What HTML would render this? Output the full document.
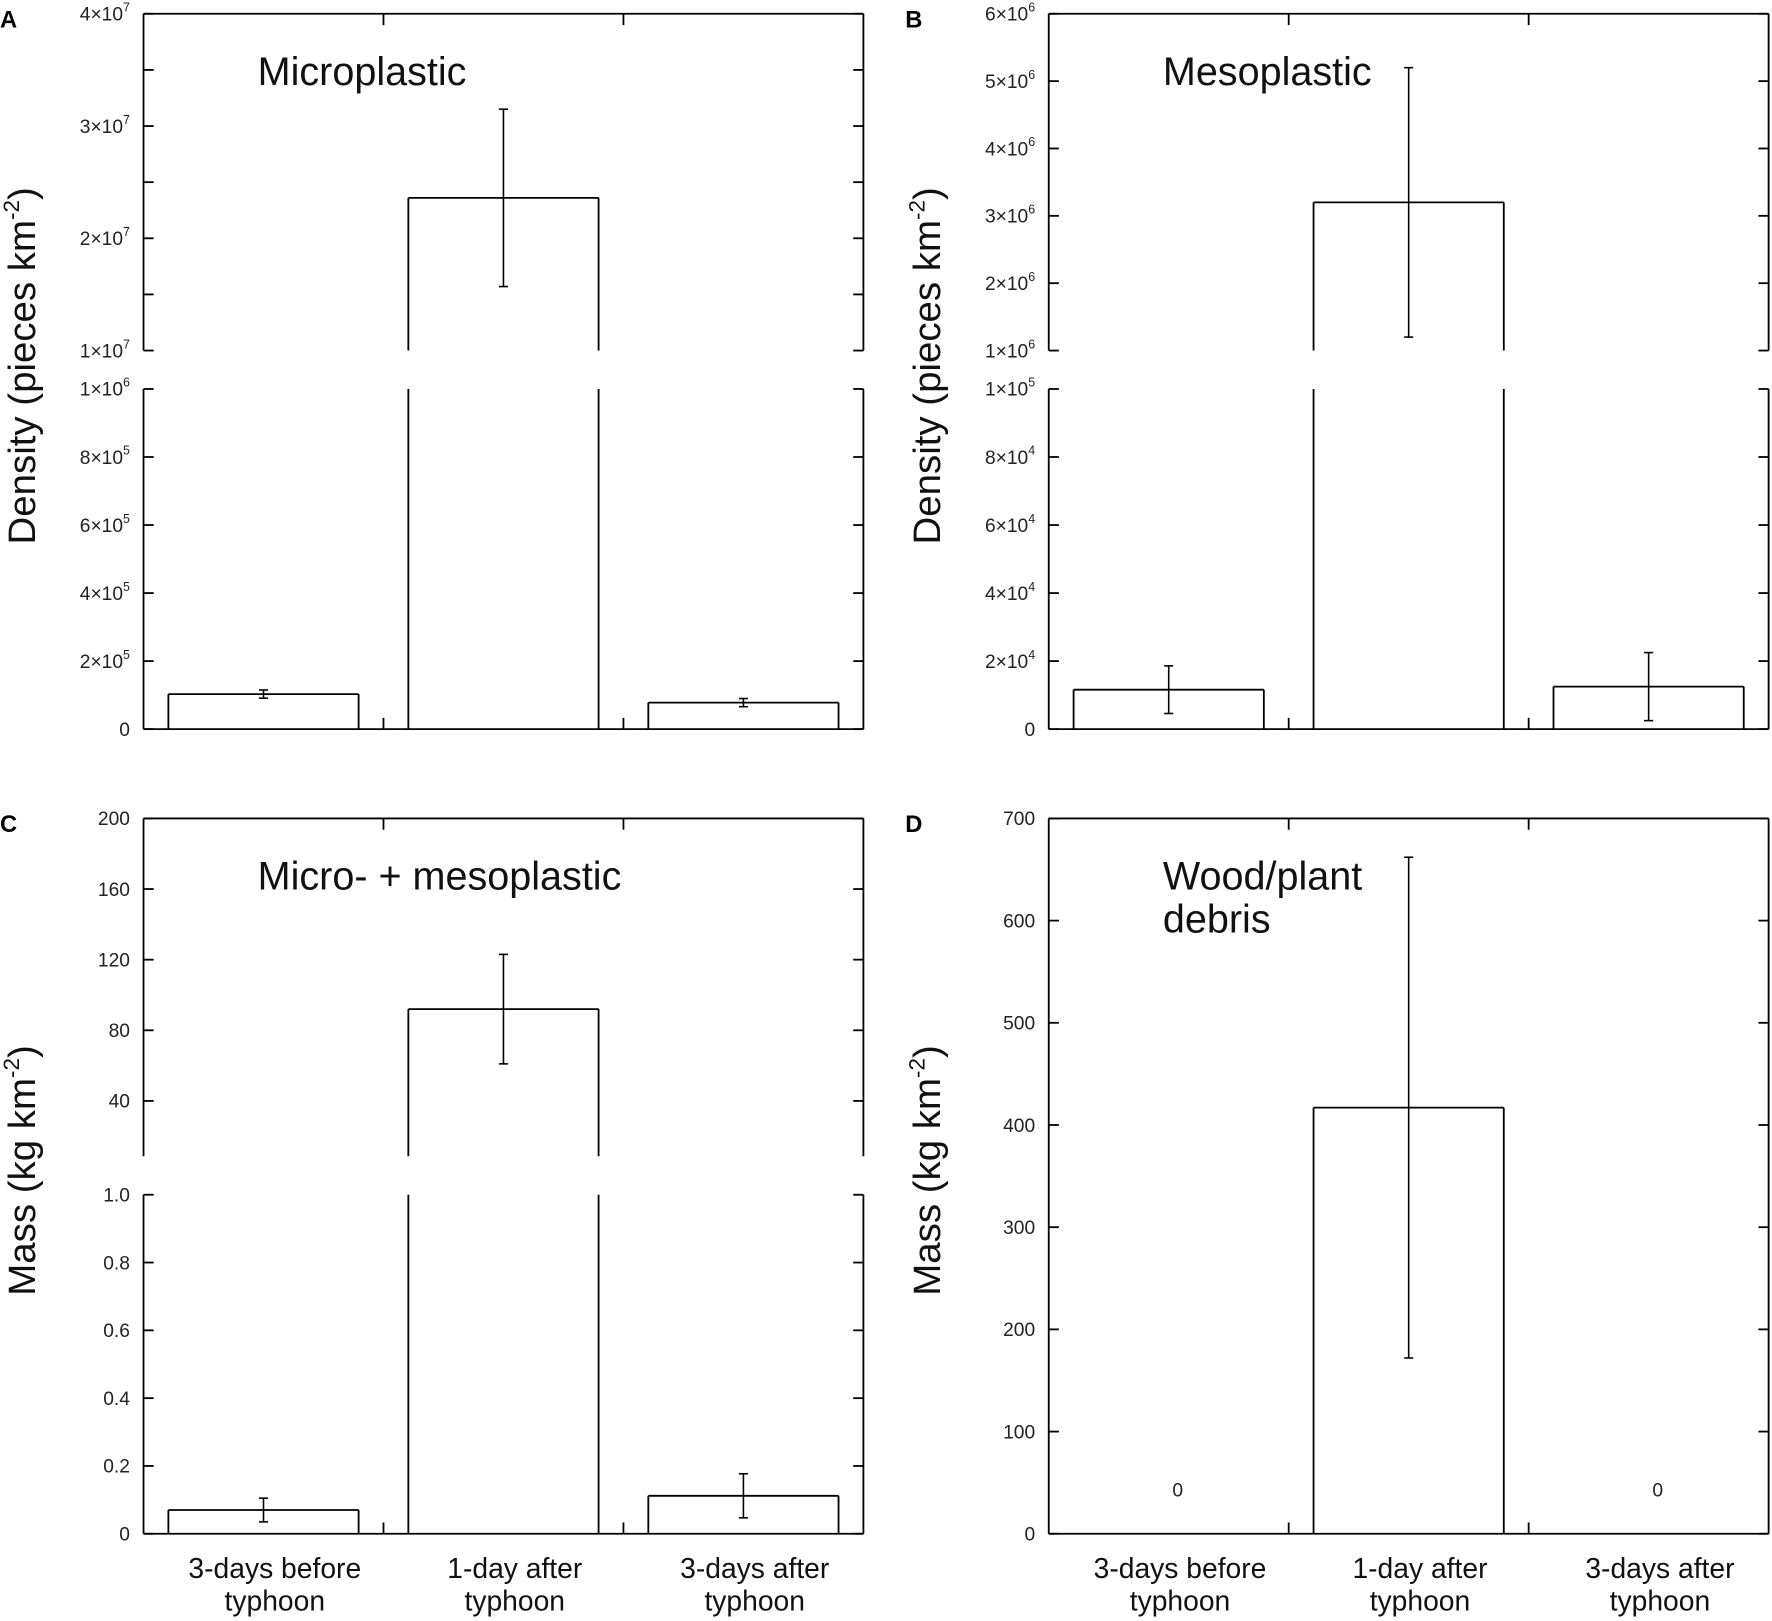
<!DOCTYPE html>
<html><head><meta charset="utf-8"><style>
html,body{margin:0;padding:0;background:#fff}
svg{display:block;font-family:"Liberation Sans",Arial,sans-serif}
</style></head><body>
<svg id="fig" width="1772" height="1621" viewBox="0 0 1568 1434" xmlns="http://www.w3.org/2000/svg"></svg>
<script>
const categories = ["3-days before|typhoon","1-day after|typhoon","3-days after|typhoon"];
const microValues = [1.03e5, 2.36e7, 0.78e5];
const microErrors = [0.12e5, 0.79e7, 0.12e5];
const mesoValues = [1.16e4, 3.2e6, 1.25e4];
const mesoErrors = [0.7e4, 2.0e6, 1.0e4];
const massValues = [0.07, 92, 0.112];
const massErrors = [0.035, 31, 0.065];
const woodValues = [0, 417, 0];
const woodErrors = [0, 245, 0];
const microUpperTicks = [1e7, 2e7, 3e7, 4e7];
const microLowerTicks = [0, 2e5, 4e5, 6e5, 8e5, 1e6];
const mesoUpperTicks = [1e6, 2e6, 3e6, 4e6, 5e6, 6e6];
const mesoLowerTicks = [0, 2e4, 4e4, 6e4, 8e4, 1e5];
const massUpperTicks = [40, 80, 120, 160, 200];
const massLowerTicks = [0, 0.2, 0.4, 0.6, 0.8, 1.0];
const woodTicks = [0, 100, 200, 300, 400, 500, 600, 700];

const NS = "http://www.w3.org/2000/svg";
const svg = document.getElementById('fig');
function mk(tag, attrs, parent) {
  const e = document.createElementNS(NS, tag);
  for (const k in attrs) e.setAttribute(k, attrs[k]);
  (parent || svg).appendChild(e);
  return e;
}
function line(g, x1, y1, x2, y2, w) {
  return mk('line', {x1, y1, x2, y2, stroke: '#000', 'stroke-width': w || 1.6}, g);
}
function sci(v) {
  if (v === 0) return {m: '0', e: null};
  const e = Math.floor(Math.log10(v) + 1e-9);
  const m = Math.round(v / Math.pow(10, e));
  return {m: m + '\u00d710', e: String(e)};
}
function tickLabel(g, x, y, v, mode) {
  const t = mk('text', {x, y: y + 6, 'text-anchor': 'end', 'font-size': 17, fill: '#222'}, g);
  
  
  if (mode === 'sci') {
    const s = sci(v);
    if (s.e === null) { t.textContent = '0'; }
    else {
      const a = mk('tspan', {}, t); a.textContent = s.m;
      const b = mk('tspan', {'font-size': 11, dy: -8}, t); b.textContent = s.e;
    }
  } else if (mode === 'dec') {
    t.textContent = v === 0 ? '0' : v.toFixed(1);
  } else t.textContent = String(v);
}

function panel(cfg) {
  const g = mk('g', {});
  
  
  const L = cfg.left, R = cfg.left + 637, W = R - L;
  const n = categories.length, cw = W / n;
  const segs = cfg.segs;
  function yOf(v) {
    for (const s of segs) {
      if (v >= s.min && v <= s.max) return s.bottom - (v - s.min) / (s.max - s.min) * (s.bottom - s.top);
    }
    const s = segs[0];
    return s.bottom - (v - s.min) / (s.max - s.min) * (s.bottom - s.top);
  }
  const top = segs[0].top, bot = segs[segs.length - 1].bottom;
  line(g, L, top, R, top); line(g, L, bot, R, bot);
  segs.forEach(s => {
    line(g, L, s.top, L, s.bottom); line(g, R, s.top, R, s.bottom);
    const all = s.ticks.concat(s.minor || []);
    all.forEach(v => {
      const y = s.bottom - (v - s.min) / (s.max - s.min) * (s.bottom - s.top);
      line(g, L, y, L + 9, y); line(g, R, y, R - 9, y);
    });
    s.ticks.forEach(v => {
      const y = s.bottom - (v - s.min) / (s.max - s.min) * (s.bottom - s.top);
      tickLabel(g, L - 12, y, v, cfg.mode(s));
    });
  });
  for (let i = 1; i < n; i++) {
    const x = L + cw * i;
    line(g, x, top, x, top + 10); line(g, x, bot, x, bot - 10);
  }
  const vals = cfg.values, errs = cfg.errors;
  vals.forEach((v, i) => {
    const x0 = L + cw * i + 22, x1 = L + cw * (i + 1) - 22, cx = (x0 + x1) / 2;
    if (v === 0) {
      const z = mk('text', {x: cx + 8, y: bot - 33, 'text-anchor': 'middle', 'font-size': 17, fill: '#222'}, g);
      
      
      z.textContent = '0';
      return;
    }
    const yv = yOf(v);
    const bar = mk('g', {}, g);
    
    
    if (segs.length === 2 && v > segs[1].max) {
      line(bar, x0, yv, x1, yv);
      line(bar, x0, yv, x0, segs[0].bottom); line(bar, x1, yv, x1, segs[0].bottom);
      line(bar, x0, segs[1].top, x0, bot); line(bar, x1, segs[1].top, x1, bot);
    } else {
      line(bar, x0, yv, x1, yv); line(bar, x0, yv, x0, bot); line(bar, x1, yv, x1, bot);
    }
    const yt = yOf(v + errs[i]), yb = yOf(v - errs[i]);
    const eb = mk('g', {}, g);
    
    
    line(eb, cx, yt, cx, yb, 1.4); line(eb, cx - 4, yt, cx + 4, yt, 1.4); line(eb, cx - 4, yb, cx + 4, yb, 1.4);
  });
  if (cfg.xlabels) categories.forEach((c, i) => {
    const parts = c.split('|'), cx = L + cw * (i + 0.5) + 10;
    parts.forEach((p, j) => {
      const t = mk('text', {x: cx, y: bot + 39 + j * 29, 'text-anchor': 'middle', 'font-size': 25, fill: '#111'}, g);
      
      
      t.textContent = p;
    });
  });
  const yc = (top + bot) / 2 - 5;
  const yt = mk('text', {x: 0, y: 0, transform: `translate(${L - 96},${yc}) rotate(-90)`, 'text-anchor': 'middle', 'font-size': 34, fill: '#111'}, g);
  
  
  const a = mk('tspan', {}, yt); a.textContent = cfg.ytitle;
  const b = mk('tspan', {'font-size': 20, dy: -14}, yt); b.textContent = '-2';
  const c = mk('tspan', {dy: 14}, yt); c.textContent = ')';
  cfg.title.forEach((tl, j) => {
    const t = mk('text', {x: L + 101, y: top + 63 + j * 38, 'font-size': 35, fill: '#111'}, g);
    
    
    t.textContent = tl;
  });
  const pl = mk('text', {x: L - 127, y: top + 12, 'font-size': 21, 'font-weight': 'bold', fill: '#000'}, g);
  
  
  pl.textContent = cfg.letter;
}

panel({name: 'panel-a', letter: 'A', left: 127, title: ['Microplastic'], ytitle: 'Density (pieces km', xlabels: false,
  values: microValues, errors: microErrors, mode: () => 'sci',
  segs: [{top: 12, bottom: 310, min: 1e7, max: 4e7, ticks: microUpperTicks, minor: [1.5e7, 2.5e7, 3.5e7]},
         {top: 344, bottom: 645, min: 0, max: 1e6, ticks: microLowerTicks}]});
panel({name: 'panel-b', letter: 'B', left: 928, title: ['Mesoplastic'], ytitle: 'Density (pieces km', xlabels: false,
  values: mesoValues, errors: mesoErrors, mode: () => 'sci',
  segs: [{top: 12, bottom: 310, min: 1e6, max: 6e6, ticks: mesoUpperTicks},
         {top: 344, bottom: 645, min: 0, max: 1e5, ticks: mesoLowerTicks}]});
panel({name: 'panel-c', letter: 'C', left: 127, title: ['Micro- + mesoplastic'], ytitle: 'Mass (kg km', xlabels: true,
  values: massValues, errors: massErrors, mode: s => s.max <= 1 ? 'dec' : 'int',
  segs: [{top: 724, bottom: 1023, min: 200 - (1023 - 724) / 62.5 * 40, max: 200, ticks: massUpperTicks},
         {top: 1057, bottom: 1357, min: 0, max: 1, ticks: massLowerTicks}]});
panel({name: 'panel-d', letter: 'D', left: 928, title: ['Wood/plant', 'debris'], ytitle: 'Mass (kg km', xlabels: true,
  values: woodValues, errors: woodErrors, mode: () => 'int',
  segs: [{top: 724, bottom: 1357, min: 0, max: 700, ticks: woodTicks}]});
</script>
</body></html>
